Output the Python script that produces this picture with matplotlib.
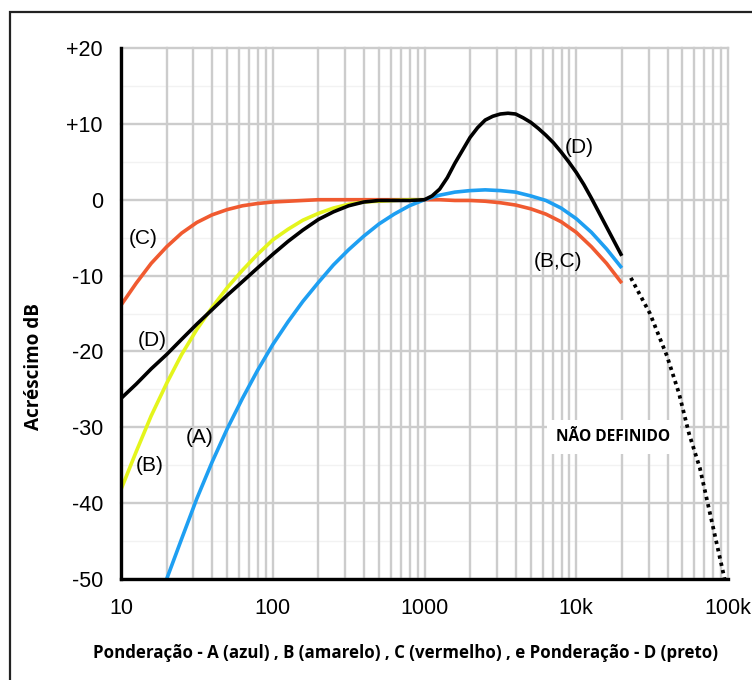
import matplotlib
matplotlib.use('Agg')
import matplotlib.pyplot as plt
from matplotlib.patches import Rectangle

# third-octave frequencies (Hz) and weighting values (dB)
freq = [10, 12.6, 15.8, 20, 25.1, 31.6, 39.8, 50.1, 63.1, 79.4, 100, 126, 158, 200, 251, 316,
        398, 501, 631, 794, 1000, 1259, 1585, 1995, 2512, 3162, 3981, 5012, 6310, 7943, 10000,
        12589, 15849, 19953]

# A: starts at 20 Hz (below -50 before that)
db_a = [None, None, None, -50.0, -44.7, -39.4, -34.6, -30.2, -26.2, -22.5, -19.1, -16.1, -13.4,
        -10.9, -8.6, -6.6, -4.8, -3.2, -1.9, -0.8, 0.0, 0.6, 1.0, 1.2, 1.3, 1.2, 1.0, 0.5, -0.1,
        -1.1, -2.5, -4.3, -6.5, -9.0]

# B: above 1 kHz it lies under C
db_b = [-38.2, -33.2, -28.5, -24.2, -20.4, -17.1, -14.2, -11.6, -9.3, -7.2, -5.3, -3.9, -2.7,
        -1.8, -1.1, -0.6, -0.3, -0.2, -0.1, 0.0, 0.0]

db_c = [-13.9, -11.0, -8.4, -6.2, -4.4, -3.0, -2.0, -1.3, -0.8, -0.5, -0.3, -0.2, -0.1, 0.0,
        0.0, 0.0, 0.0, 0.0, 0.0, 0.0, 0.0, 0.0, -0.1, -0.1, -0.2, -0.4, -0.7, -1.2, -1.9, -2.9,
        -4.3, -6.2, -8.4, -11.0]

# D: sixth-octave steps above 1 kHz
freq_d = [10, 12.6, 15.8, 20, 25.1, 31.6, 39.8, 50.1, 63.1, 79.4, 100, 126, 158, 200, 251, 316,
          398, 501, 631, 794, 1000, 1122, 1259, 1413, 1585, 1778, 1995, 2239, 2512, 2818, 3162,
          3548, 3981, 4467, 5012, 5623, 6310, 7079, 7943, 8913, 10000, 11220, 12589, 14125,
          15849, 17783, 19953]
db_d = [-26.2, -24.3, -22.3, -20.4, -18.4, -16.4, -14.5, -12.6, -10.8, -9.0, -7.2, -5.5, -4.0,
        -2.6, -1.6, -0.8, -0.3, -0.1, -0.1, -0.1, 0.0, 0.5, 1.4, 2.9, 4.8, 6.5, 8.2, 9.5, 10.5,
        11.0, 11.3, 11.4, 11.3, 10.8, 10.2, 9.4, 8.5, 7.5, 6.3, 5.0, 3.6, 2.0, 0.2, -1.7, -3.6,
        -5.5, -7.4]

# extrapolated (undefined) region
freq_x = [22900, 30600, 39600, 47500, 55300, 65300, 76000, 95000]
db_x = [-10.3, -15.0, -20.6, -25.5, -30.8, -35.4, -41.3, -50.0]

x_ticks = [10, 100, 1000, 10000, 100000]
x_tick_labels = ['10', '100', '1000', '10k', '100k']
y_ticks = [-50, -40, -30, -20, -10, 0, 10, 20]
y_tick_labels = ['-50', '-40', '-30', '-20', '-10', '0', '+10', '+20']

fig = plt.figure(figsize=(7.52, 6.80), dpi=100)
ax = fig.add_axes([121 / 752, 1 - 579 / 680, (728 - 121) / 752, (579 - 48) / 680])

# frame around the whole picture (cut off on the right and bottom)
fig.patches.append(Rectangle((10 / 752, -0.05), 1.1, 1 - 12 / 680 + 0.05,
                             transform=fig.transFigure, fill=False,
                             edgecolor='#222222', linewidth=1.6, zorder=0))

ax.set_xscale('log')
ax.set_xlim(10, 100000)
ax.set_ylim(-50, 20)

ax.set_xticks(x_ticks)
ax.set_xticklabels(x_tick_labels)
ax.set_yticks(y_ticks)
ax.set_yticklabels(y_tick_labels)

grid_col = '#cccccc'
for yv in range(-45, 20, 10):
    ax.axhline(yv, color='#f2f2f2', linewidth=1.0, zorder=0)
ax.grid(True, which='both', axis='x', color=grid_col, linewidth=1.7, zorder=0.5)
ax.grid(True, which='major', axis='y', color=grid_col, linewidth=1.7, zorder=0.5)
for t in ax.xaxis.get_major_ticks() + ax.xaxis.get_minor_ticks() + ax.yaxis.get_major_ticks():
    t.gridline.set_clip_on(False)

lw = 2.6
a_pts = [(f, v) for f, v in zip(freq, db_a) if v is not None]
line_kw = dict(linewidth=lw, solid_joinstyle='round', solid_capstyle='butt')
ax.plot(freq, db_c, color='#f05a30', zorder=3, **line_kw)
ax.plot(freq[:len(db_b)], db_b, color='#e4f51c', zorder=4, **line_kw)
ax.plot([p[0] for p in a_pts], [p[1] for p in a_pts], color='#1e9ff2', zorder=5, **line_kw)
ax.plot(freq_d, db_d, color='black', zorder=6, **line_kw)
ax.plot(freq_x, db_x, color='black', linewidth=2.7, linestyle=(0, (0.9, 1.1)), zorder=6)

ax.tick_params(which='both', length=0)
ax.tick_params(axis='y', pad=13)
ax.tick_params(axis='x', pad=14)
for lab in ax.get_xticklabels() + ax.get_yticklabels():
    lab.set_fontfamily('Liberation Sans')
    lab.set_fontsize(15.5)

for side in ('top', 'right'):
    ax.spines[side].set_visible(False)
for side in ('left', 'bottom'):
    ax.spines[side].set_linewidth(2.4)
    ax.spines[side].set_color('black')
    ax.spines[side].set_zorder(7)

lab_kw = dict(fontfamily='Liberation Sans', fontsize=15, ha='center', va='center', zorder=8)
ax.text(14.0, -5.1, '(C)', **lab_kw)
ax.text(16.0, -18.6, '(D)', **lab_kw)
ax.text(15.5, -35.1, '(B)', **lab_kw)
ax.text(33.0, -31.3, '(A)', **lab_kw)
ax.text(10500, 6.9, '(D)', **lab_kw)
ax.text(7600, -8.2, '(B,C)', **lab_kw)

ax.text(17500, -31.3, 'NÃO DEFINIDO', fontfamily='Open Sans', fontweight='bold',
        fontsize=11.2, ha='center', va='center', zorder=5,
        bbox=dict(boxstyle='square,pad=0.6', facecolor='white', edgecolor='none'))

ax.set_ylabel('Acréscimo dB', fontfamily='Open Sans', fontweight='bold', fontsize=13.6)
ax.yaxis.set_label_coords(-0.127, 0.40)
ax.set_xlabel('Ponderação - A (azul) , B (amarelo) , C (vermelho) , e Ponderação - D (preto)',
              fontfamily='Open Sans', fontweight='bold', fontsize=12.2)
ax.xaxis.set_label_coords(0.4695, -0.122)

fig.savefig('out.png', dpi=100)
